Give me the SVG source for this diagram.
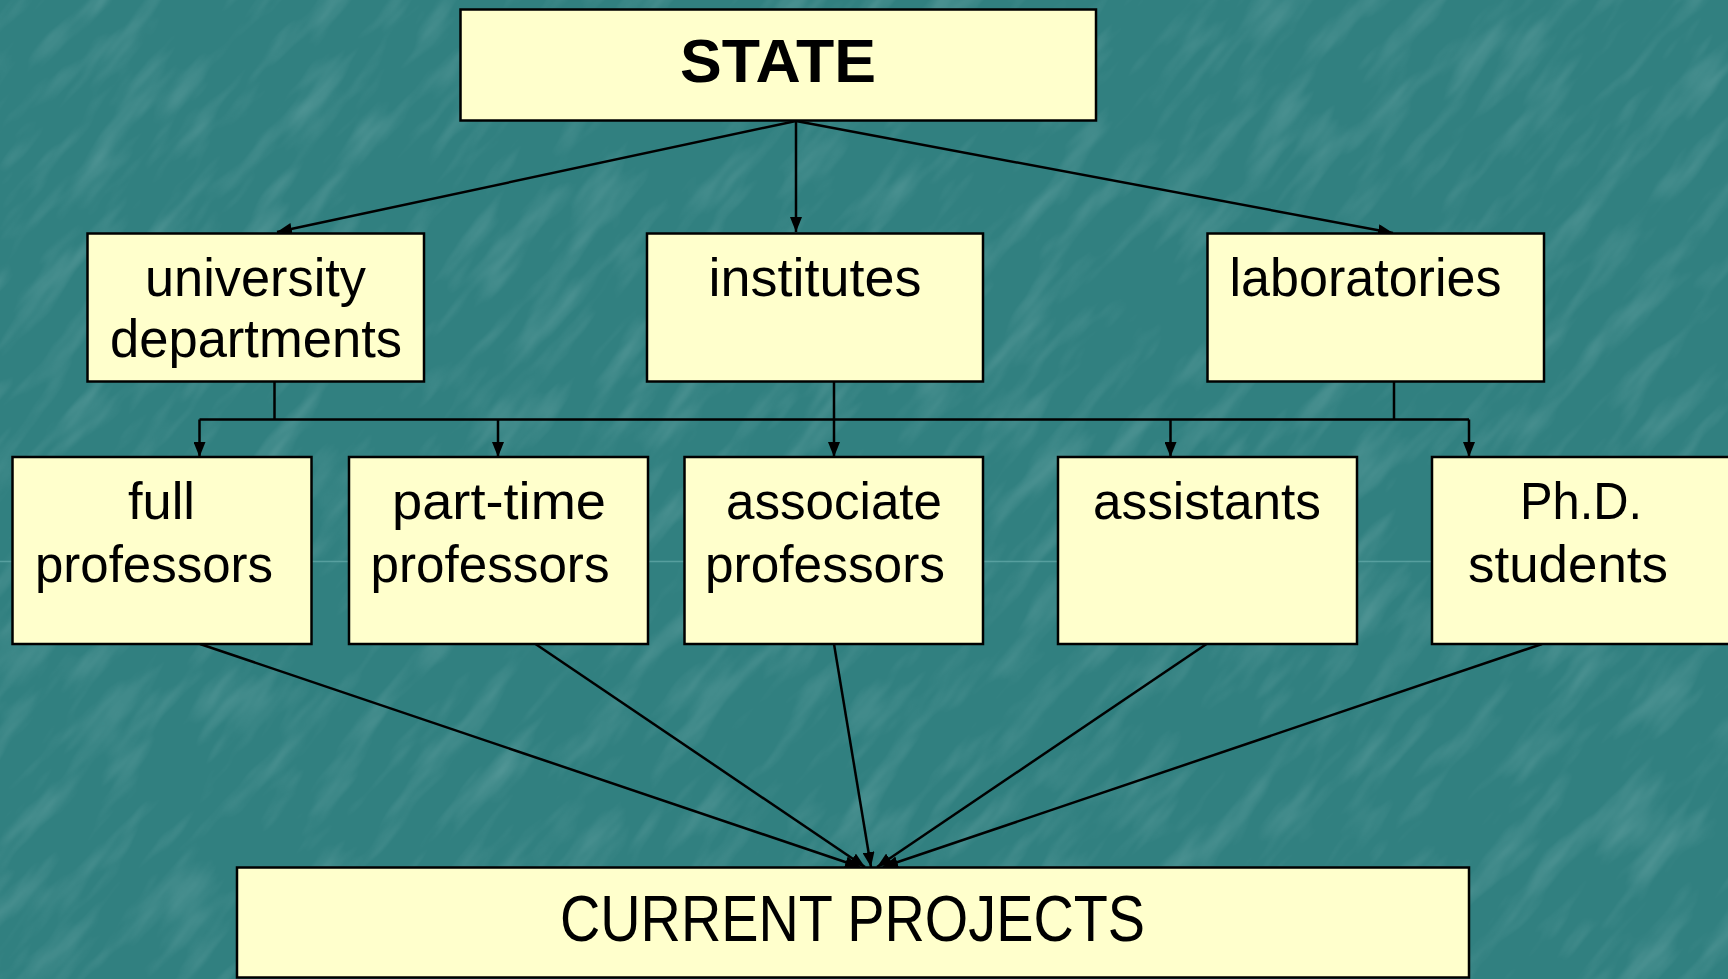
<svg xmlns="http://www.w3.org/2000/svg" width="1728" height="979" viewBox="0 0 1728 979">
<style>
.box{fill:#FFFFCC;stroke:#000;stroke-width:2.5}
.t{font-family:"Liberation Sans",Arial,sans-serif;fill:#000;text-anchor:middle}
.n{font-size:54px}
.m{font-size:52px}
.c{stroke:#000;stroke-width:2.5;fill:none}
.a{marker-end:url(#ah)}
</style>
<defs>
<marker id="ah" markerUnits="userSpaceOnUse" markerWidth="15" markerHeight="12" refX="15" refY="6" orient="auto">
<path d="M0,0 L15,6 L0,12 z" fill="#000"/>
</marker>
<filter id="tex" x="0" y="0" width="100%" height="100%">
<feTurbulence type="fractalNoise" baseFrequency="0.04 0.01" numOctaves="3" seed="11" result="n"/>
<feColorMatrix type="matrix" values="0 0 0 0 0.8  0 0 0 0 0.95  0 0 0 0 0.95  0 0 0 1.5 -0.72" />
</filter>
</defs>
<g id="background">
<rect x="0" y="0" width="1728" height="979" fill="#318080"/>
<rect x="-600" y="-800" width="2928" height="2579" filter="url(#tex)" opacity="0.24" transform="rotate(40 864 489)"/>
<line x1="0" y1="561.5" x2="1728" y2="561.5" stroke="#6fb3b3" stroke-width="1.5" opacity="0.6"/>
</g>
<g id="connectors">
<line class="c a" x1="796" y1="121" x2="277" y2="232"/>
<line class="c a" x1="796" y1="121" x2="796" y2="232"/>
<line class="c a" x1="796" y1="121" x2="1393" y2="233"/>
<line class="c" x1="274.5" y1="382" x2="274.5" y2="419.5"/>
<line class="c" x1="834" y1="382" x2="834" y2="419.5"/>
<line class="c" x1="1394" y1="382" x2="1394" y2="419.5"/>
<line class="c" x1="199.5" y1="419.5" x2="1469" y2="419.5"/>
<line class="c a" x1="199.5" y1="419.5" x2="199.5" y2="457"/>
<line class="c a" x1="498" y1="419.5" x2="498" y2="457"/>
<line class="c a" x1="834" y1="419.5" x2="834" y2="457"/>
<line class="c a" x1="1170.5" y1="419.5" x2="1170.5" y2="457"/>
<line class="c a" x1="1469" y1="419.5" x2="1469" y2="457"/>
<line class="c a" x1="200" y1="644" x2="860" y2="867"/>
<line class="c a" x1="535.5" y1="644" x2="865" y2="867"/>
<line class="c a" x1="834" y1="644" x2="871" y2="867"/>
<line class="c a" x1="1206.5" y1="644" x2="877" y2="867"/>
<line class="c a" x1="1542" y1="644" x2="883" y2="867"/>
</g>
<g id="state">
<rect class="box" x="460.5" y="9.5" width="635.5" height="111"/>
<text class="t" x="778" y="82" font-size="62" font-weight="bold" textLength="196" lengthAdjust="spacingAndGlyphs">STATE</text>
</g>
<g id="university-departments">
<rect class="box" x="87.5" y="233.5" width="336.5" height="148"/>
<text class="t n" x="255.5" y="296" textLength="221" lengthAdjust="spacingAndGlyphs">university</text>
<text class="t n" x="256" y="357" textLength="292" lengthAdjust="spacingAndGlyphs">departments</text>
</g>
<g id="institutes">
<rect class="box" x="647" y="233.5" width="336" height="148"/>
<text class="t n" x="815" y="296" textLength="213" lengthAdjust="spacingAndGlyphs">institutes</text>
</g>
<g id="laboratories">
<rect class="box" x="1207.5" y="233.5" width="336.5" height="148"/>
<text class="t n" x="1365.5" y="296" textLength="272" lengthAdjust="spacingAndGlyphs">laboratories</text>
</g>
<g id="full-professors">
<rect class="box" x="12.5" y="457" width="299" height="187"/>
<text class="t m" x="161.5" y="519" textLength="67" lengthAdjust="spacingAndGlyphs">full</text>
<text class="t m" x="154" y="582" textLength="238" lengthAdjust="spacingAndGlyphs">professors</text>
</g>
<g id="part-time-professors">
<rect class="box" x="349" y="457" width="299" height="187"/>
<text class="t m" x="499" y="519" textLength="214" lengthAdjust="spacingAndGlyphs">part-time</text>
<text class="t m" x="490" y="582" textLength="239" lengthAdjust="spacingAndGlyphs">professors</text>
</g>
<g id="associate-professors">
<rect class="box" x="684.5" y="457" width="298.5" height="187"/>
<text class="t m" x="834" y="519" textLength="216" lengthAdjust="spacingAndGlyphs">associate</text>
<text class="t m" x="825" y="582" textLength="240" lengthAdjust="spacingAndGlyphs">professors</text>
</g>
<g id="assistants">
<rect class="box" x="1058" y="457" width="299" height="187"/>
<text class="t m" x="1207" y="519" textLength="228" lengthAdjust="spacingAndGlyphs">assistants</text>
</g>
<g id="phd-students">
<rect class="box" x="1432" y="457" width="310" height="187"/>
<text class="t m" x="1581" y="519" textLength="122" lengthAdjust="spacingAndGlyphs">Ph.D.</text>
<text class="t m" x="1568" y="582" textLength="200" lengthAdjust="spacingAndGlyphs">students</text>
</g>
<g id="current-projects">
<rect class="box" x="237" y="867.5" width="1232" height="110"/>
<text class="t" x="852.5" y="941" font-size="65" textLength="585" lengthAdjust="spacingAndGlyphs">CURRENT PROJECTS</text>
</g>
</svg>
